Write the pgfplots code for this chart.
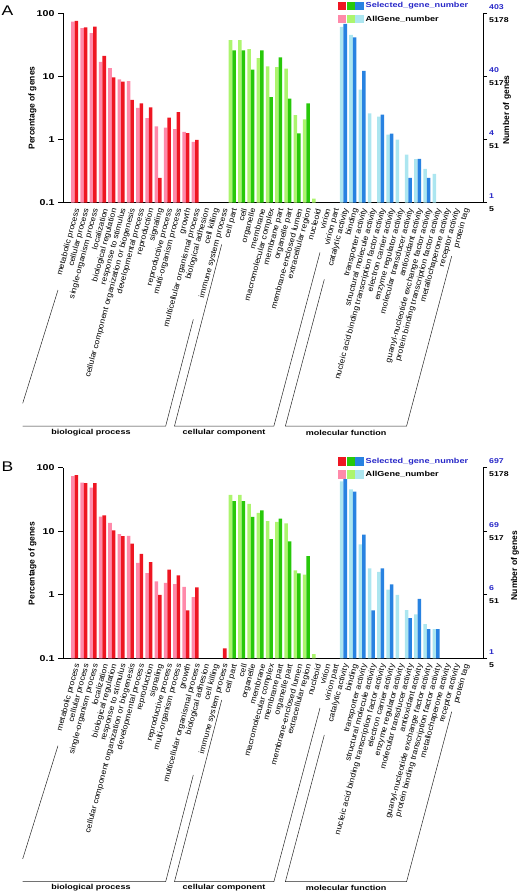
\documentclass[border=0pt]{standalone}
\usepackage{pgfplots}
\pgfplotsset{compat=1.18}
\usepackage{fontspec}
\setmainfont{Liberation Sans}
\newfontfamily\wide[FakeStretch=1.25]{Liberation Sans}
\newfontfamily\lab[FakeStretch=1.1]{Liberation Sans}
\definecolor{cRed}{RGB}{238,22,34}
\definecolor{cPink}{RGB}{255,138,170}
\definecolor{cGreen}{RGB}{40,200,10}
\definecolor{cLGreen}{RGB}{172,245,110}
\definecolor{cBlue}{RGB}{40,130,225}
\definecolor{cLBlue}{RGB}{172,230,240}
\definecolor{numblue}{RGB}{40,40,200}

\newcommand\catlabels{metabolic process,cellular process,single-organism process,localization,biological regulation,response to stimulus,cellular component organization or biogenesis,developmental process,reproduction,signaling,reproductive process,multi-organism process,growth,multicellular organismal process,biological adhesion,cell killing,immune system process,cell part,cell,organelle,membrane,macromolecular complex,membrane part,organelle part,membrane-enclosed lumen,extracellular region,nucleoid,virion,virion part,catalytic activity,binding,transporter activity,structural molecule activity,nucleic acid binding transcription factor activity,electron carrier activity,enzyme regulator activity,molecular transducer activity,antioxidant activity,guanyl-nucleotide exchange factor activity,protein binding transcription factor activity,metallochaperone activity,receptor activity,protein tag}

\newcommand\deco[4]{% #1 y offset, #2 letter, #3 left label y, #4 right label x
\begin{scope}[x=1pt,y=-1pt,yshift=-#1pt]
  \node[font=\wide\fontsize{14}{14}\selectfont, inner sep=0pt] at (7.5,11) {#2};
  \node[rotate=90, font=\bfseries\fontsize{8.5}{9}\selectfont, inner sep=0pt] at (32.5,#3) {Percentage of genes};
  \node[rotate=90, font=\bfseries\fontsize{8.5}{9}\selectfont, inner sep=0pt] at (#4,110) {Number of genes};
  \fill[cRed] (338,1.7) rectangle (346.3,10);
  \fill[cGreen] (346.7,1.7) rectangle (355,10);
  \fill[cBlue] (355.3,1.7) rectangle (363.7,10);
  \fill[cPink] (338,14.8) rectangle (346.3,23.1);
  \fill[cLGreen] (346.7,14.8) rectangle (355,23.1);
  \fill[cLBlue] (355.3,14.8) rectangle (363.7,23.1);
  \node[anchor=west, inner sep=0pt, text=numblue, font=\wide\bfseries\fontsize{7.3}{8}\selectfont] at (365.5,6) {Selected\_gene\_number};
  \node[anchor=west, inner sep=0pt, font=\wide\bfseries\fontsize{7.3}{8}\selectfont] at (365.5,19) {AllGene\_number};
  \draw[line width=0.5pt, black!85] (58,290) -- (22.7,403.3);
  \draw[line width=0.5pt, black!85] (22.7,426) -- (165.7,426) -- (193.3,319.4);
  \draw[line width=0.5pt, black!85] (221.7,244.4) -- (174.5,426) -- (273.9,426) -- (320,252.4);
  \draw[line width=0.5pt, black!85] (324.3,279.4) -- (285.4,426) -- (406.6,426) -- (451.7,256.1);
  \node[font=\wide\bfseries\fontsize{7.2}{8}\selectfont] at (91,432.5) {biological process};
  \node[font=\wide\bfseries\fontsize{7.2}{8}\selectfont] at (224,432.5) {cellular component};
  \node[font=\wide\bfseries\fontsize{7.2}{8}\selectfont] at (346,432.5) {molecular function};
\end{scope}}

\begin{document}
\begin{tikzpicture}
\path[use as bounding box] (0pt,0pt) rectangle (524pt,-894pt);

% ---------------- Panel A ----------------
\begin{axis}[ymode=log, log origin=infty, at={(63pt,-202.7pt)}, anchor=south west, height=189.4pt,
    scale only axis, width=420pt,
    xmin=-1.26, xmax=44.05, ymin=0.1, ymax=100,
    axis x line*=bottom, axis y line*=left, axis line style={-, black, line width=0.6pt},
    xtick={0,...,42}, xticklabels/.expand once=\catlabels,
    minor xtick={-0.5,0.5,...,42.5},
    tick align=outside, major tick length=5pt, minor tick length=2.5pt,
    xtick style={draw=none}, ytick style={black, line width=0.6pt},
    minor tick style={black, line width=0.4pt},
    xticklabel style={rotate=75, anchor=east, font=\lab\fontsize{7.8}{8}\selectfont, inner sep=0.5pt, yshift=-3pt, xshift=0.5pt},
    ytick={0.1,1,10,100}, yticklabels={0.1,1,10,100},
    yticklabel style={font=\wide\bfseries\fontsize{8.5}{9}\selectfont},
    yminorticks=false]
\addplot[ybar, bar width=0.38, bar shift=-0.19, draw=none, fill=cPink] coordinates {(0,73.5)(1,58)(2,48.6)(3,17)(4,13.5)(5,9.0)(6,8.45)(7,3.18)(8,2.19)(9,1.62)(10,1.54)(11,1.47)(12,1.33)(13,0.92)};
\addplot[ybar, bar width=0.38, bar shift=0.19, draw=none, fill=cRed] coordinates {(0,76)(1,60)(2,61.5)(3,21.1)(4,9.7)(5,8.3)(6,4.25)(7,3.76)(8,3.25)(9,0.248)(10,2.23)(11,2.71)(12,1.26)(13,0.99)};
\addplot[ybar, bar width=0.38, bar shift=-0.19, draw=none, fill=cLGreen] coordinates {(17,37.5)(18,37.5)(19,27)(20,19.5)(21,14.4)(22,14.05)(23,13.35)(24,2.43)(25,2.08)(26,0.116)};
\addplot[ybar, bar width=0.38, bar shift=0.19, draw=none, fill=cGreen] coordinates {(17,25.9)(18,25.9)(19,12.8)(20,25.9)(21,4.72)(22,20.1)(23,4.45)(24,1.25)(25,3.75)};
\addplot[ybar, bar width=0.38, bar shift=-0.19, draw=none, fill=cLBlue] coordinates {(29,60.9)(30,45.5)(31,6.2)(32,2.6)(33,2.3)(34,1.2)(35,1.0)(36,0.575)(37,0.49)(38,0.345)(39,0.287)};
\addplot[ybar, bar width=0.38, bar shift=0.19, draw=none, fill=cBlue] coordinates {(29,67.8)(30,41.7)(31,12.2)(33,2.48)(34,1.24)(36,0.248)(37,0.496)(38,0.248)};
\end{axis}
\begin{axis}[ymode=log, at={(63pt,-202.7pt)}, anchor=south west, height=189.4pt,
    scale only axis, width=420pt,
    xmin=-1.26, xmax=44.05, ymin=0.1, ymax=100,
    axis x line=none, axis y line*=right, axis line style={-, black, line width=0.6pt},
    ytick={0.1,1,10,100}, yminorticks=false, tick align=outside, major tick length=4pt,
    ytick style={black, line width=0.6pt},
    yticklabel style={align=left, anchor=west, font=\wide\bfseries\fontsize{7}{13}\selectfont, inner sep=0pt, xshift=2pt},
    yticklabels={{\textcolor{numblue}{1}\\5},{\textcolor{numblue}{4}\\51},{\textcolor{numblue}{40}\\517},{\textcolor{numblue}{403}\\5178}}]
\addplot[draw=none] coordinates {(0,1)};
\end{axis}
\deco{0}{A}{108}{507}

% ---------------- Panel B ----------------
\begin{axis}[ymode=log, log origin=infty, at={(63pt,-658.3pt)}, anchor=south west, height=190.6pt,
    scale only axis, width=420pt,
    xmin=-1.26, xmax=44.05, ymin=0.1, ymax=100,
    axis x line*=bottom, axis y line*=left, axis line style={-, black, line width=0.6pt},
    xtick={0,...,42}, xticklabels/.expand once=\catlabels,
    minor xtick={-0.5,0.5,...,42.5},
    tick align=outside, major tick length=5pt, minor tick length=2.5pt,
    xtick style={draw=none}, ytick style={black, line width=0.6pt},
    minor tick style={black, line width=0.4pt},
    xticklabel style={rotate=75, anchor=east, font=\lab\fontsize{7.8}{8}\selectfont, inner sep=0.5pt, yshift=-3pt, xshift=0.5pt},
    ytick={0.1,1,10,100}, yticklabels={0.1,1,10,100},
    yticklabel style={font=\wide\bfseries\fontsize{8.5}{9}\selectfont},
    yminorticks=false]
\addplot[ybar, bar width=0.38, bar shift=-0.19, draw=none, fill=cPink] coordinates {(0,73.5)(1,58)(2,48.6)(3,17)(4,13.5)(5,9.0)(6,8.45)(7,3.18)(8,2.19)(9,1.62)(10,1.54)(11,1.47)(12,1.33)(13,0.92)};
\addplot[ybar, bar width=0.38, bar shift=0.19, draw=none, fill=cRed] coordinates {(0,76.7)(1,57.4)(2,57.4)(3,17.8)(4,10.3)(5,8.4)(6,6.4)(7,4.4)(8,3.28)(9,1.0)(10,2.48)(11,2.02)(12,0.57)(13,1.31)(16,0.143)};
\addplot[ybar, bar width=0.38, bar shift=-0.19, draw=none, fill=cLGreen] coordinates {(17,37.5)(18,37.5)(19,27)(20,19.5)(21,14.4)(22,14.05)(23,13.35)(24,2.43)(25,2.08)(26,0.116)};
\addplot[ybar, bar width=0.38, bar shift=0.19, draw=none, fill=cGreen] coordinates {(17,29.9)(18,29.9)(19,16.9)(20,21.3)(21,7.55)(22,15.8)(23,6.93)(24,2.18)(25,4.07)};
\addplot[ybar, bar width=0.38, bar shift=-0.19, draw=none, fill=cLBlue] coordinates {(29,60.9)(30,45.5)(31,6.2)(32,2.6)(33,2.3)(34,1.2)(35,1.0)(36,0.575)(37,0.49)(38,0.345)(39,0.287)};
\addplot[ybar, bar width=0.38, bar shift=0.19, draw=none, fill=cBlue] coordinates {(29,66.4)(30,41.9)(31,8.83)(32,0.57)(33,2.61)(34,1.46)(36,0.431)(37,0.86)(38,0.287)(39,0.287)};
\end{axis}
\begin{axis}[ymode=log, at={(63pt,-658.3pt)}, anchor=south west, height=190.6pt,
    scale only axis, width=420pt,
    xmin=-1.26, xmax=44.05, ymin=0.1, ymax=100,
    axis x line=none, axis y line*=right, axis line style={-, black, line width=0.6pt},
    ytick={0.1,1,10,100}, yminorticks=false, tick align=outside, major tick length=4pt,
    ytick style={black, line width=0.6pt},
    yticklabel style={align=left, anchor=west, font=\wide\bfseries\fontsize{7}{13}\selectfont, inner sep=0pt, xshift=2pt},
    yticklabels={{\textcolor{numblue}{1}\\5},{\textcolor{numblue}{6}\\51},{\textcolor{numblue}{69}\\517},{\textcolor{numblue}{697}\\5178}}]
\addplot[draw=none] coordinates {(0,1)};
\end{axis}
\deco{455.6}{B}{108}{515}

\end{tikzpicture}
\end{document}
